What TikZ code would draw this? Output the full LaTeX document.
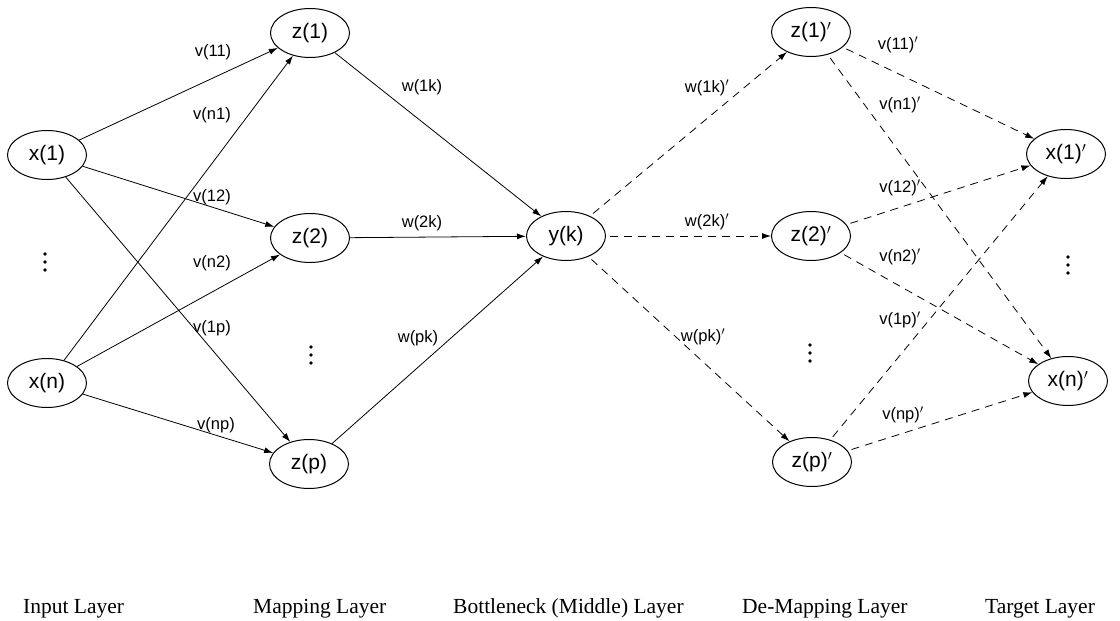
\documentclass[tikz,border=0pt]{standalone}
\usepackage{fontspec}
\setmainfont{Liberation Serif}
\newfontfamily\nodefont{Liberation Sans}
\usetikzlibrary{shapes.geometric,arrows.meta}
\begin{document}
\begin{tikzpicture}[x=1pt,y=-1pt,
  neuron/.style={ellipse,draw,line width=1pt,minimum width=79pt,minimum height=49pt,inner sep=0pt,font=\nodefont\fontsize{21}{21}\selectfont},
  wlabel/.style={font=\nodefont\fontsize{16.5}{16.5}\selectfont,inner sep=1pt},
  layerlabel/.style={font=\fontsize{21.5}{22}\selectfont,anchor=base west,inner sep=0pt},
  solidarrow/.style={line width=0.8pt,-{Latex[length=9pt,width=6pt]}},
  dasharrow/.style={line width=0.8pt,dash pattern=on 8pt off 6pt,-{Latex[length=9pt,width=6pt]},shorten <=4pt},
  dot/.style={circle,fill,inner sep=0pt,minimum size=3.6pt}
]
\useasboundingbox (0,0) rectangle (1120,621);

% nodes
\node[neuron] (x1) at (47,155) {x(1)};
\node[neuron] (xn) at (47,383) {x(n)};
\node[neuron] (z1) at (310,33) {z(1)};
\node[neuron] (z2) at (310,238) {z(2)};
\node[neuron] (zp) at (309,464) {z(p)};
\node[neuron] (yk) at (566,236) {y(k)};
\node[neuron] (z1p) at (811,32) {z(1)$'$};
\node[neuron] (z2p) at (811,236) {z(2)$'$};
\node[neuron] (zpp) at (812,462) {z(p)$'$};
\node[neuron] (x1p) at (1066,154) {x(1)$'$};
\node[neuron] (xnp) at (1068,381) {x(n)$'$};

% vertical ellipses (dots)
\foreach \cx/\cy [count=\i] in {45/262, 311/355, 810/353, 1068/265}{
  \node[dot] (da\i) at (\cx,\cy-8) {};
  \node[dot] (db\i) at (\cx,\cy) {};
  \node[dot] (dc\i) at (\cx,\cy+8) {};
}

% left connectors
\draw[solidarrow] (x1) -- (z1);
\draw[solidarrow] (x1) -- (z2);
\draw[solidarrow] (x1) -- (zp);
\draw[solidarrow] (xn) -- (z1);
\draw[solidarrow] (xn) -- (z2);
\draw[solidarrow] (xn) -- (zp);
\draw[solidarrow] (z1) -- (yk);
\draw[solidarrow] (z2) -- (yk);
\draw[solidarrow] (zp) -- (yk);

% right connectors
\draw[dasharrow] (yk) -- (z1p);
\draw[dasharrow] (yk) -- (z2p);
\draw[dasharrow] (yk) -- (zpp);
\draw[dasharrow] (z1p) -- (x1p);
\draw[dasharrow] (z1p) -- (xnp);
\draw[dasharrow] (z2p) -- (x1p);
\draw[dasharrow] (z2p) -- (xnp);
\draw[dasharrow] (zpp) -- (x1p);
\draw[dasharrow] (zpp) -- (xnp);

% weight labels
\node[wlabel] (l11) at (213,52) {v(11)};
\node[wlabel] (ln1) at (212,115) {v(n1)};
\node[wlabel] (l12) at (212,197) {v(12)};
\node[wlabel] (ln2) at (212,263) {v(n2)};
\node[wlabel] (l1p) at (212,328) {v(1p)};
\node[wlabel] (lnp) at (216,425) {v(np)};
\node[wlabel] (w1k) at (422,87) {w(1k)};
\node[wlabel] (w2k) at (422,223) {w(2k)};
\node[wlabel] (wpk) at (418,338) {w(pk)};
\node[wlabel] (w1kp) at (707,88) {w(1k)$'$};
\node[wlabel] (w2kp) at (707,222) {w(2k)$'$};
\node[wlabel] (wpkp) at (703,337) {w(pk)$'$};
\node[wlabel] (l11p) at (898,45) {v(11)$'$};
\node[wlabel] (ln1p) at (900,105) {v(n1)$'$};
\node[wlabel] (l12p) at (900,188) {v(12)$'$};
\node[wlabel] (ln2p) at (900,257) {v(n2)$'$};
\node[wlabel] (l1pp) at (900,320) {v(1p)$'$};
\node[wlabel] (lnpp) at (903,415) {v(np)$'$};

% layer labels
\node[layerlabel] (inl) at (23,613) {Input Layer};
\node[layerlabel] (mpl) at (253,613) {Mapping Layer};
\node[layerlabel] (bnl) at (453,613) {Bottleneck (Middle) Layer};
\node[layerlabel] (dml) at (742,613) {De-Mapping Layer};
\node[layerlabel] (tgl) at (985,613) {Target Layer};
\end{tikzpicture}
\end{document}
